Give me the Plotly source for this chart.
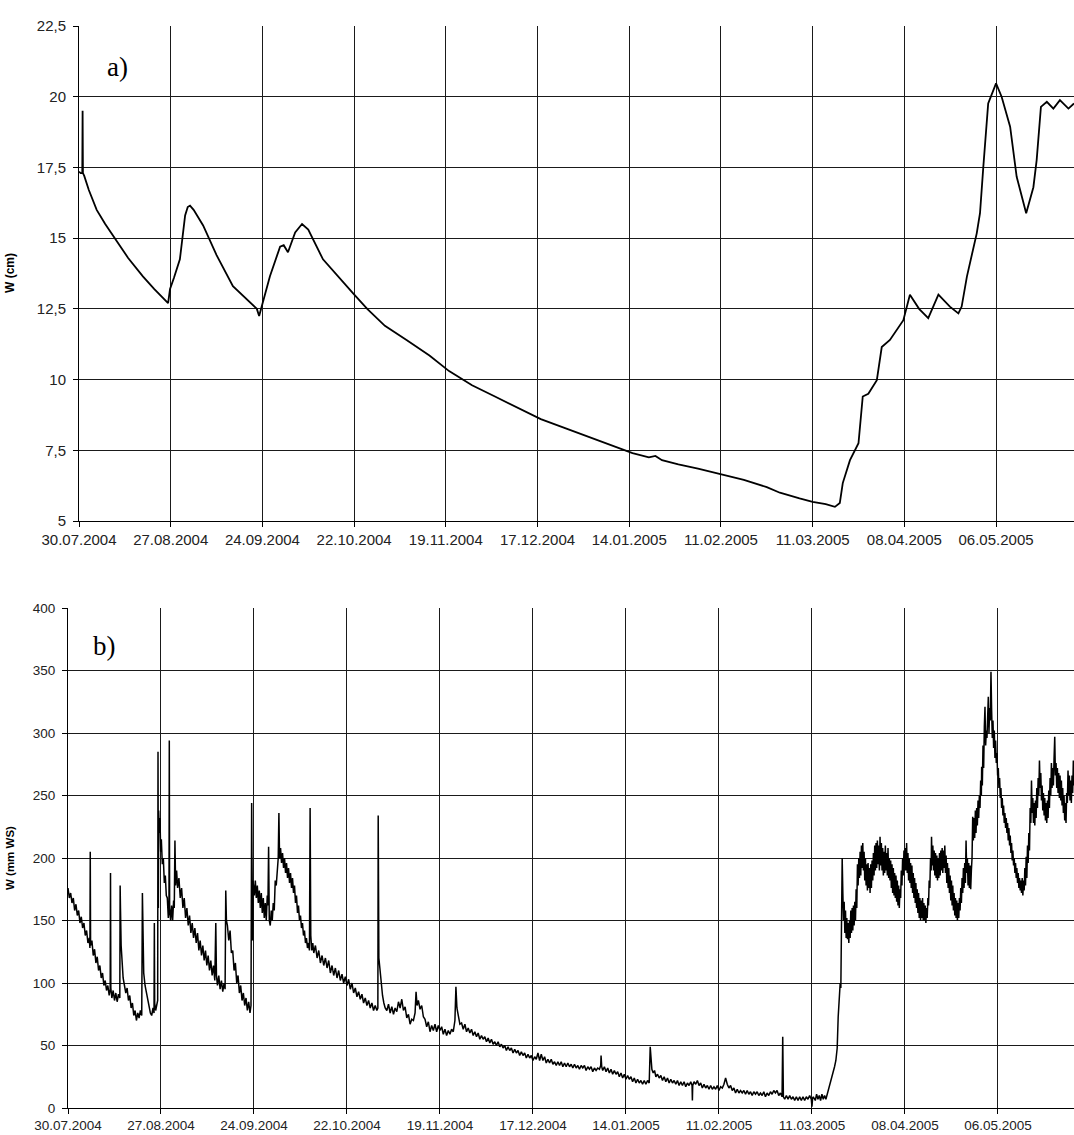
import pandas as pd
import plotly.graph_objects as go

START = pd.Timestamp("2004-07-30")

# Date ticks every 28 days
tick_dates = ["2004-07-30", "2004-08-27", "2004-09-24", "2004-10-22", "2004-11-19",
              "2004-12-17", "2005-01-14", "2005-02-11", "2005-03-11", "2005-04-08",
              "2005-05-06"]
tick_labels = ["30.07.2004", "27.08.2004", "24.09.2004", "22.10.2004", "19.11.2004",
               "17.12.2004", "14.01.2005", "11.02.2005", "11.03.2005", "08.04.2005",
               "06.05.2005"]

# Panel a) water level W (cm), days since 30.07.2004
top_days = [0.0, 0.5, 1.0, 1.1, 1.2, 1.6, 3.0, 5.4, 8.0, 11.5, 15.0, 19.5, 23.0, 27.2,
            27.8, 29.0, 30.8, 32.4, 33.2, 33.9, 35.0, 37.9, 42.0, 47.0, 51.0, 54.3,
            55.0, 56.5, 58.3, 61.4, 62.5, 63.8, 65.0, 66.0, 68.1, 70.0, 74.5, 79.0,
            83.7, 88.0, 93.4, 100, 107, 113, 120, 127, 134, 141, 148, 155, 162, 169,
            174, 176, 178, 183, 189, 196, 203, 210, 214, 220, 224, 228, 230.8, 232.3,
            233.2, 235.4, 238.0, 239.3, 241.0, 243.6, 245.1, 247.6, 251.7, 253.7,
            256.5, 259.3, 262.4, 265.9, 268.5, 269.5, 271.1, 274.1, 275.1, 276.1,
            277.6, 280.0, 281.7, 284.3, 286.3, 289.2, 291.4, 292.4, 293.7, 295.5,
            297.5, 299.5, 302.1, 303.8]
top_w = [17.35, 17.3, 17.3, 19.5, 17.3, 17.2, 16.7, 16.0, 15.5, 14.9, 14.3, 13.65, 13.2,
         12.7, 13.2, 13.6, 14.25, 15.8, 16.1, 16.15, 16.0, 15.45, 14.4, 13.3, 12.85,
         12.5, 12.25, 12.9, 13.65, 14.7, 14.75, 14.5, 14.9, 15.2, 15.5, 15.3, 14.25,
         13.65, 13.05, 12.5, 11.9, 11.4, 10.85, 10.3, 9.8, 9.4, 9.0, 8.6, 8.3, 8.0, 7.7,
         7.4, 7.25, 7.3, 7.15, 7.0, 6.85, 6.65, 6.45, 6.2, 6.0, 5.8, 5.68, 5.6, 5.5,
         5.64, 6.34, 7.15, 7.75, 9.4, 9.5, 9.98, 11.15, 11.4, 12.1, 13.0, 12.5, 12.17,
         13.0, 12.58, 12.34, 12.58, 13.64, 15.17, 15.88, 17.5, 19.76, 20.47, 20.0,
         18.94, 17.17, 15.88, 16.8, 17.76, 19.64, 19.82, 19.58, 19.88, 19.58, 19.76]

# Panel b) W (mm WS) as (day, value) pairs, grouped by period
summer_2004 = [
    (0.0, 176), (0.4, 168), (0.8, 172), (1.2, 164), (1.6, 168), (2.0, 158), (2.4, 163),
    (2.8, 154), (3.2, 158), (3.6, 148), (4.0, 153), (4.4, 144), (4.8, 148), (5.2, 138),
    (5.6, 142), (6.0, 132), (6.4, 136), (6.6, 128), (6.7, 205), (6.8, 130), (7.2, 134),
    (7.6, 122), (8.0, 127), (8.4, 116), (8.8, 121), (9.2, 110), (9.6, 114), (10.0, 104),
    (10.4, 108), (10.8, 98), (11.2, 102), (11.6, 94), (12.0, 98), (12.4, 90), (12.7, 95),
    (12.8, 188), (12.9, 96), (13.2, 88), (13.6, 94), (14.0, 86), (14.4, 92), (14.8, 85),
    (15.2, 91), (15.6, 88), (15.7, 178), (15.8, 160), (16.0, 130), (16.3, 112),
    (16.6, 104), (17.0, 98), (17.4, 92), (17.8, 96), (18.2, 86), (18.6, 90), (19.0, 80),
    (19.4, 84), (19.8, 74), (20.2, 78), (20.6, 70), (21.0, 76), (21.4, 72), (21.8, 78),
    (22.2, 74), (22.4, 172), (22.5, 140), (22.8, 108), (23.2, 98), (23.6, 92), (24.0, 86),
    (24.4, 80), (24.8, 76), (25.2, 74), (25.6, 80), (25.9, 76), (26.0, 148), (26.1, 84),
    (26.4, 78), (26.8, 82), (27.0, 86), (27.1, 285), (27.2, 160),
]
late_summer_2004 = [
    (27.3, 238), (27.5, 220), (27.7, 232), (27.9, 205), (28.1, 215), (28.4, 195),
    (28.7, 200), (29.0, 180), (29.3, 186), (29.6, 170), (29.9, 168), (30.2, 152),
    (30.4, 158), (30.5, 294), (30.6, 160), (30.9, 150), (31.2, 162), (31.5, 150),
    (31.8, 166), (32.0, 160), (32.2, 214), (32.4, 178), (32.7, 190), (33.0, 176),
    (33.4, 184), (33.8, 168), (34.2, 176), (34.6, 160), (35.0, 168), (35.4, 152),
    (35.8, 160), (36.2, 146), (36.6, 154), (37.0, 140), (37.4, 148), (37.8, 136),
    (38.2, 144), (38.6, 132), (39.0, 140), (39.4, 126), (39.8, 134), (40.2, 122),
    (40.6, 130), (41.0, 118), (41.4, 126), (41.8, 114), (42.2, 122), (42.6, 110),
    (43.0, 118), (43.4, 106), (43.8, 114), (44.2, 102), (44.5, 148), (44.7, 106),
    (45.0, 98), (45.4, 106), (45.8, 95), (46.2, 102), (46.6, 93), (47.0, 100), (47.3, 95),
    (47.5, 174), (47.7, 150), (48.0, 146), (48.4, 134), (48.8, 142), (49.2, 124),
    (49.6, 126), (50.0, 110), (50.4, 116), (50.8, 100), (51.2, 106), (51.6, 92),
    (52.0, 98), (52.4, 86), (52.8, 92), (53.2, 82), (53.6, 88), (54.0, 78), (54.4, 85),
    (54.8, 76), (55.1, 82), (55.3, 244), (55.4, 200), (55.5, 168), (55.6, 134),
]
autumn_2004 = [
    (55.7, 182), (55.8, 176), (56.1, 170), (56.4, 182), (56.7, 168), (57.0, 178),
    (57.3, 164), (57.6, 174), (57.9, 160), (58.2, 172), (58.5, 156), (58.8, 168),
    (59.1, 152), (59.4, 164), (59.7, 150), (60.0, 170), (60.2, 162), (60.4, 209),
    (60.6, 150), (60.9, 146), (61.2, 158), (61.5, 150), (61.8, 164), (62.1, 158),
    (62.4, 182), (62.7, 178), (63.0, 192), (63.3, 200), (63.5, 236), (63.7, 200),
    (64.0, 208), (64.3, 196), (64.6, 204), (64.9, 192), (65.2, 200), (65.5, 188),
    (65.8, 196), (66.1, 184), (66.4, 192), (66.7, 180), (67.0, 188), (67.3, 176),
    (67.6, 184), (67.9, 172), (68.2, 178), (68.5, 164), (68.8, 170), (69.1, 156),
    (69.4, 162), (69.7, 150), (70.0, 154), (70.3, 144), (70.6, 148), (70.9, 138),
    (71.2, 142), (71.5, 132), (71.8, 136), (72.1, 128), (72.4, 132), (72.7, 126),
    (72.9, 240), (73.1, 138), (73.4, 126), (73.7, 132),
    (74.0, 124), (74.5, 130), (75.0, 120), (75.5, 126), (76.0, 116), (76.5, 122),
    (77.0, 114), (77.5, 120), (78.0, 112), (78.5, 118), (79.0, 108), (79.5, 114),
    (80.0, 106), (80.5, 112), (81.0, 104), (81.5, 110), (82.0, 102), (82.5, 107),
    (83.0, 100), (83.5, 105), (84.0, 98), (84.5, 103), (85.0, 95), (85.5, 100),
    (86.0, 92), (86.5, 96), (87.0, 89), (87.5, 93), (88.0, 87), (88.5, 91), (89.0, 84),
    (89.5, 88), (90.0, 82), (90.5, 86), (91.0, 80), (91.5, 84), (92.0, 78), (92.5, 82),
    (93.0, 78), (93.3, 80), (93.4, 234), (93.5, 200), (93.6, 120), (93.9, 112),
    (94.3, 98), (94.7, 90), (95.1, 84), (95.5, 80),
]
winter_2004_05 = [
    (96.0, 78), (96.5, 83), (97.0, 76), (97.5, 81), (98.0, 75), (98.5, 80), (99.0, 77),
    (99.5, 85), (100.0, 80), (100.5, 87), (101.0, 78), (101.5, 81), (102.0, 72),
    (102.5, 75), (103.0, 67), (103.5, 71), (104.0, 70), (104.5, 76), (104.8, 93),
    (105.1, 82), (105.5, 86), (106.0, 79), (106.5, 82), (107.0, 73), (107.5, 71),
    (108.0, 65), (108.5, 69), (109.0, 61), (109.5, 66), (110.0, 62), (110.5, 67),
    (111.0, 61), (111.5, 66), (112.0, 62), (112.5, 65), (113.0, 59), (113.5, 63),
    (114.0, 58), (114.5, 62), (115.0, 59), (115.5, 63), (116.0, 61), (116.5, 70),
    (116.8, 97), (117.1, 80), (117.5, 73), (118.0, 67), (118.5, 68), (119.0, 63),
    (119.5, 67), (120.0, 61), (120.5, 64), (121.0, 60), (121.5, 63), (122.0, 58),
    (122.5, 61), (123.0, 57), (123.5, 60), (124.0, 55), (124.5, 58), (125.0, 55),
    (125.5, 57), (126.0, 53), (126.5, 56), (127.0, 52), (127.5, 55), (128.0, 51),
    (128.5, 53), (129.0, 50), (129.5, 53), (130.0, 49), (130.5, 51), (131.0, 48),
    (131.5, 50), (132.0, 46), (132.5, 49), (133.0, 46), (133.5, 48), (134.0, 44),
    (134.5, 47), (135.0, 44), (135.5, 46), (136.0, 42), (136.5, 45), (137.0, 42),
    (137.5, 44), (138.0, 40), (138.5, 43), (139.0, 40), (139.5, 42), (140.0, 38),
    (140.5, 41), (141.0, 39), (141.5, 44), (142.0, 38), (142.5, 43), (143.0, 38),
    (143.5, 41), (144.0, 36), (144.5, 39), (145.0, 36), (145.5, 39), (146.0, 35),
    (146.5, 37), (147.0, 34), (147.5, 37), (148.0, 34), (148.5, 37), (149.0, 33),
    (149.5, 36), (150.0, 33), (150.5, 36), (151.0, 33), (151.5, 35), (152.0, 32),
    (152.5, 35), (153.0, 32), (153.5, 34), (154.0, 31), (154.5, 34), (155.0, 32),
    (155.5, 34), (156.0, 30), (156.5, 33), (157.0, 31), (157.5, 33), (158.0, 29),
    (158.5, 32), (159.0, 30), (159.5, 32), (160.0, 31), (160.4, 34), (160.5, 42),
    (160.7, 33), (161.0, 30), (161.5, 33), (162.0, 29), (162.5, 32), (163.0, 28),
    (163.5, 31), (164.0, 27), (164.5, 30), (165.0, 27), (165.5, 29), (166.0, 25),
    (166.5, 28), (167.0, 24), (167.5, 27), (168.0, 23), (168.5, 26), (169.0, 23),
    (169.5, 25), (170.0, 21), (170.5, 24), (171.0, 20), (171.5, 23), (172.0, 20),
    (172.5, 22), (173.0, 19), (173.5, 22), (174.0, 19), (174.5, 22), (175.0, 20),
    (175.3, 49), (175.5, 36), (175.8, 31), (176.2, 28), (176.6, 30), (177.0, 25),
    (177.5, 27), (178.0, 24), (178.5, 26), (179.0, 22), (179.5, 25), (180.0, 21),
    (180.5, 24), (181.0, 20), (181.5, 23), (182.0, 20), (182.5, 22), (183.0, 19),
    (183.5, 22), (184.0, 18), (184.5, 21), (185.0, 18), (185.5, 21), (186.0, 17),
    (186.5, 20), (187.0, 18), (187.5, 21), (187.9, 18), (188.0, 6), (188.1, 18),
    (188.5, 21), (189.0, 19), (189.5, 22), (190.0, 18), (190.5, 20), (191.0, 16),
    (191.5, 19), (192.0, 16), (192.5, 18), (193.0, 15), (193.5, 18), (194.0, 15),
    (194.5, 17), (195.0, 15), (195.5, 18), (196.0, 14), (196.5, 17), (197.0, 16),
    (197.5, 19), (198.0, 24), (198.5, 19), (199.0, 16), (199.5, 18), (200.0, 14),
    (200.5, 16), (201.0, 12), (201.5, 15), (202.0, 12), (202.5, 14), (203.0, 12),
    (203.5, 14), (204.0, 11), (204.5, 14), (205.0, 11), (205.5, 13), (206.0, 10),
    (206.5, 13), (207.0, 11), (207.5, 13), (208.0, 10), (208.5, 12), (209.0, 10),
    (209.5, 13), (210.0, 9), (210.5, 12), (211.0, 10), (211.5, 13), (212.0, 11),
    (212.5, 14), (213.0, 12), (213.5, 14), (214.0, 10), (214.5, 12), (215.0, 9),
    (215.2, 57), (215.4, 9), (215.8, 7), (216.3, 10), (216.8, 7), (217.3, 10),
    (217.8, 7), (218.3, 9), (218.8, 6), (219.3, 9), (219.8, 6), (220.3, 9), (220.8, 6),
    (221.3, 9), (221.8, 6), (222.3, 9), (222.8, 7), (223.3, 10), (223.8, 7), (224.0, 1),
    (224.2, 8),
]
spring_2005 = [
    (224.4, 9), (225.0, 6), (225.4, 11), (225.8, 7), (226.2, 10), (226.6, 6), (227.0, 11),
    (227.4, 7), (227.8, 10), (228.2, 7), (228.6, 11), (229.0, 13), (229.4, 18),
    (229.9, 22), (230.3, 27), (230.8, 33), (231.2, 38), (231.6, 48), (231.9, 73),
    (232.2, 90), (232.5, 100), (232.7, 96), (232.8, 140), (232.9, 166), (233.1, 200),
    (233.3, 172), (233.5, 150), (233.7, 165), (233.9, 140), (234.1, 158), (234.3, 136),
    (234.5, 152), (234.7, 135), (234.9, 148), (235.1, 132), (235.3, 150), (235.5, 136),
    (235.7, 158), (235.9, 140), (236.1, 160), (236.3, 142), (236.5, 162), (236.7, 146),
    (236.9, 165), (237.1, 150), (237.3, 175), (237.5, 160), (237.7, 195), (237.9, 178),
    (238.1, 200), (238.3, 184), (238.5, 205), (238.7, 186), (238.9, 210), (239.1, 192),
    (239.3, 212), (239.5, 190), (239.7, 205), (239.9, 182), (240.1, 200), (240.3, 178),
    (240.5, 195), (240.7, 174), (240.9, 196), (241.1, 176), (241.3, 192), (241.5, 172),
    (241.7, 195), (241.9, 176), (242.1, 198), (242.3, 182), (242.5, 204), (242.7, 186),
    (242.9, 210), (243.1, 190), (243.3, 212), (243.5, 192), (243.7, 214), (243.9, 195),
    (244.1, 210), (244.3, 190), (244.5, 217), (244.7, 194), (244.9, 212), (245.1, 190),
    (245.3, 208), (245.5, 186), (245.7, 205), (245.9, 188), (246.1, 210), (246.3, 190),
    (246.5, 204), (246.7, 186), (246.9, 208), (247.1, 184), (247.3, 200), (247.5, 182),
    (247.7, 198), (247.9, 176), (248.1, 195), (248.3, 172), (248.5, 192), (248.7, 170),
    (248.9, 188), (249.1, 168), (249.3, 186), (249.5, 165), (249.7, 182), (249.9, 162),
    (250.1, 178), (250.3, 160), (250.5, 175), (250.7, 168), (250.9, 190), (251.1, 178),
    (251.3, 200), (251.5, 186), (251.7, 206), (251.9, 190), (252.1, 208), (252.3, 190),
    (252.5, 212), (252.7, 188), (252.9, 204), (253.1, 182), (253.3, 200), (253.5, 180),
    (253.7, 196), (253.9, 176), (254.1, 194), (254.3, 172), (254.5, 188), (254.7, 168),
    (254.9, 184), (255.1, 164), (255.3, 180), (255.5, 160), (255.7, 175), (255.9, 156),
    (256.1, 172), (256.3, 152), (256.5, 168), (256.7, 150), (256.9, 166), (257.1, 152),
    (257.3, 168), (257.5, 150), (257.7, 164), (257.9, 150), (258.1, 162), (258.3, 148),
    (258.5, 160), (258.7, 152), (258.9, 168), (259.1, 162), (259.3, 182), (259.5, 176),
    (259.7, 200), (259.9, 190), (260.0, 217), (260.2, 194), (260.4, 210), (260.6, 190),
    (260.8, 206), (261.0, 186), (261.2, 204), (261.4, 184), (261.6, 202), (261.8, 182),
    (262.0, 200), (262.2, 184), (262.4, 204), (262.6, 186), (262.8, 206), (263.0, 190),
    (263.2, 208), (263.4, 188), (263.6, 206), (263.8, 192), (264.0, 210), (264.2, 188),
    (264.4, 202), (264.6, 180), (264.8, 196), (265.0, 176), (265.2, 192), (265.4, 172),
    (265.6, 186), (265.8, 166), (266.0, 182), (266.2, 162), (266.4, 178), (266.6, 158),
    (266.8, 172), (267.0, 154), (267.2, 168), (267.4, 152), (267.6, 166), (267.8, 150),
    (268.0, 164), (268.2, 152), (268.4, 168), (268.6, 158), (268.8, 176), (269.0, 164),
    (269.2, 184), (269.4, 172), (269.6, 192), (269.8, 176), (270.0, 196), (270.2, 180),
    (270.4, 214), (270.6, 188), (270.8, 200), (271.0, 178), (271.2, 196), (271.4, 176),
    (271.6, 194), (271.8, 175), (272.0, 190), (272.2, 200), (272.4, 233), (272.6, 214),
    (272.8, 232), (273.0, 216), (273.2, 238), (273.4, 220), (273.6, 240), (273.8, 226),
    (274.0, 246), (274.2, 232), (274.4, 250), (274.6, 240), (274.8, 262), (275.0, 250),
    (275.1, 273), (275.3, 258), (275.5, 290), (275.7, 272), (275.9, 305), (276.1, 321),
    (276.3, 290), (276.5, 302), (276.7, 296), (276.9, 318), (277.1, 329), (277.3, 300),
    (277.5, 320), (277.7, 310), (277.9, 349), (278.1, 318), (278.3, 296), (278.5, 310),
    (278.7, 288), (278.9, 302), (279.1, 280), (279.3, 294), (279.5, 276), (279.7, 284),
    (279.9, 266), (280.1, 272), (280.3, 256), (280.5, 264), (280.7, 248), (280.9, 256),
    (281.1, 240), (281.3, 248), (281.5, 234), (281.7, 242), (281.9, 228), (282.1, 236),
    (282.3, 224), (282.5, 232), (282.7, 220), (282.9, 228), (283.1, 214), (283.3, 224),
    (283.5, 210), (283.7, 218), (283.9, 204), (284.1, 212), (284.3, 198), (284.5, 206),
    (284.7, 194), (284.9, 200), (285.1, 188), (285.3, 196), (285.5, 184), (285.7, 192),
    (285.9, 180), (286.1, 188), (286.3, 176), (286.5, 184), (286.7, 174), (286.9, 182),
    (287.1, 172), (287.3, 184), (287.5, 170), (287.7, 182), (287.9, 174), (288.1, 192),
    (288.3, 178), (288.5, 201), (288.7, 184), (288.9, 210), (289.1, 196), (289.3, 220),
    (289.5, 206), (289.7, 240), (289.9, 228), (290.1, 262), (290.3, 236), (290.5, 248),
    (290.7, 228), (290.9, 244), (291.1, 226), (291.3, 246), (291.5, 232), (291.7, 256),
    (291.9, 240), (292.1, 264), (292.3, 250), (292.5, 278), (292.7, 256), (292.9, 268),
    (293.1, 246), (293.3, 258), (293.5, 238), (293.7, 252), (293.9, 234), (294.1, 248),
    (294.3, 230), (294.5, 244), (294.7, 228), (294.9, 246), (295.1, 232), (295.3, 254),
    (295.5, 240), (295.7, 264), (295.9, 250), (296.1, 276), (296.3, 256), (296.5, 272),
    (296.7, 258), (296.9, 280), (297.1, 297), (297.3, 266), (297.5, 276), (297.7, 256),
    (297.9, 272), (298.1, 252), (298.3, 268), (298.5, 248), (298.7, 266), (298.9, 246),
    (299.1, 262), (299.3, 242), (299.5, 256), (299.7, 236), (299.9, 250), (300.1, 230),
    (300.3, 244), (300.5, 228), (300.7, 252), (300.9, 244), (301.1, 270), (301.3, 250),
    (301.5, 266), (301.7, 246), (301.9, 262), (302.1, 244), (302.3, 266), (302.5, 252),
    (302.7, 278), (302.9, 258), (303.2, 270),
]

top_yticks = [5, 7.5, 10, 12.5, 15, 17.5, 20, 22.5]
top_ylabels = ["5", "7,5", "10", "12,5", "15", "17,5", "20", "22,5"]
bot_yticks = [0, 50, 100, 150, 200, 250, 300, 350, 400]
bot_ylabels = ["0", "50", "100", "150", "200", "250", "300", "350", "400"]


def to_dates(days):
    return START + pd.to_timedelta(pd.Series(days, dtype=float), unit="D")


bottom = summer_2004 + late_summer_2004 + autumn_2004 + winter_2004_05 + spring_2005
bot_days = [d for d, _ in bottom]
bot_w = [w for _, w in bottom]

W, H = 1074, 1135
FONT = "Liberation Sans, Arial, sans-serif"
SERIF = "Liberation Serif, Times New Roman, serif"

fig = go.Figure()
fig.add_trace(go.Scatter(x=to_dates(top_days), y=top_w, mode="lines",
                         line=dict(color="black", width=1.8),
                         xaxis="x", yaxis="y", showlegend=False, hoverinfo="skip"))
fig.add_trace(go.Scatter(x=to_dates(bot_days), y=bot_w, mode="lines",
                         line=dict(color="black", width=1.5),
                         xaxis="x2", yaxis="y2", showlegend=False, hoverinfo="skip"))

grid = dict(showgrid=True, gridcolor="#1a1a1a", gridwidth=1, zeroline=False,
            showline=True, linecolor="black", linewidth=1, automargin=False,
            ticks="outside", ticklen=5, tickcolor="black", tickwidth=1)


def x_axis(left_px, end_day, size, anchor):
    return dict(**grid, domain=[left_px / W, 1.0], anchor=anchor,
                range=[START, START + pd.Timedelta(days=end_day)],
                tickmode="array", tickvals=tick_dates, ticktext=tick_labels,
                tickfont=dict(family=FONT, size=size, color="#222"))


def y_axis(top_px, bot_px, rng, vals, labels, size, anchor):
    return dict(**grid, domain=[1 - bot_px / H, 1 - top_px / H], anchor=anchor,
                range=rng, tickmode="array", tickvals=vals, ticktext=labels,
                tickfont=dict(family=FONT, size=size, color="#222"),
                ticklabelstandoff=4)


def label(text, x_px, y_px, font, angle=0):
    return dict(text=text, x=x_px / W, y=1 - y_px / H, xref="paper", yref="paper",
                xanchor="center", yanchor="middle", textangle=angle,
                showarrow=False, font=font)


fig.update_layout(
    width=W, height=H,
    margin=dict(l=0, r=0, t=0, b=0, autoexpand=False),
    paper_bgcolor="white", plot_bgcolor="white",
    xaxis=x_axis(79, 303.8, 15, "y"),
    yaxis=y_axis(26, 521, [5, 22.5], top_yticks, top_ylabels, 15, "x"),
    xaxis2=x_axis(68, 302.9, 13.5, "y2"),
    yaxis2=y_axis(608, 1108, [0, 400], bot_yticks, bot_ylabels, 13.5, "x2"),
    annotations=[
        label("a)", 117, 67, dict(family=SERIF, size=27, color="black")),
        label("b)", 104, 646, dict(family=SERIF, size=27, color="black")),
        label("<b>W (cm)</b>", 10, 273, dict(family=FONT, size=12, color="black"), -90),
        label("<b>W (mm WS)</b>", 10, 858, dict(family=FONT, size=11.5, color="black"), -90),
    ],
)

fig.write_html("out.html")
